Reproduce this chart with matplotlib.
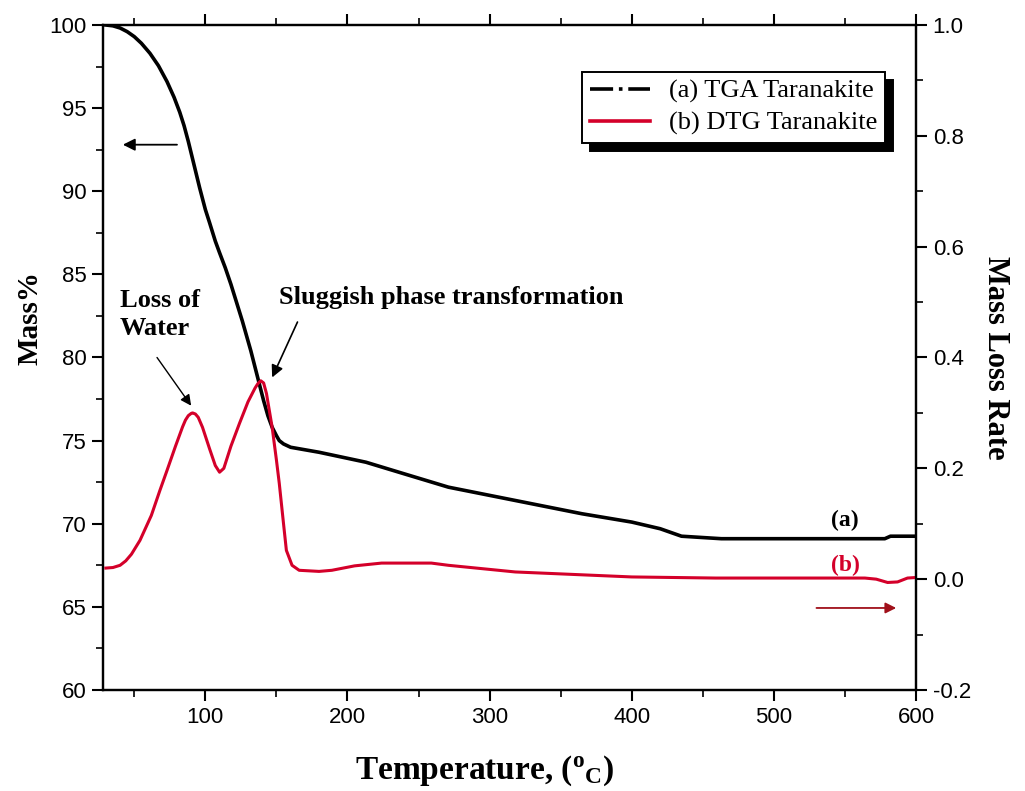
import matplotlib.pyplot as plt
from matplotlib.lines import Line2D
from matplotlib.ticker import MultipleLocator

plt.rcParams["mathtext.fontset"] = "custom"
plt.rcParams["mathtext.rm"] = "Liberation Serif:bold"
plt.rcParams["mathtext.it"] = "Liberation Serif:bold"

# TGA curve: temperature (C) vs remaining mass (%)
tga_temp = [30, 35, 40, 45, 50, 55, 61, 67, 73, 78, 82, 85, 88, 92, 96, 100,
            103, 107, 110, 114, 118, 122, 126, 129, 132, 135, 138, 141, 144,
            147, 150, 152, 155, 160, 180, 213, 240, 271, 318, 365, 400, 420,
            435, 463, 578, 582, 600]
tga_mass = [100.0, 99.95, 99.82, 99.6, 99.3, 98.9, 98.3, 97.55, 96.6, 95.65,
            94.75, 93.95, 93.0, 91.6, 90.2, 88.9, 88.1, 87.0, 86.3, 85.4, 84.4,
            83.3, 82.2, 81.3, 80.4, 79.4, 78.4, 77.4, 76.5, 75.8, 75.3, 75.0,
            74.8, 74.6, 74.3, 73.7, 73.0, 72.2, 71.4, 70.6, 70.1, 69.7, 69.25,
            69.1, 69.1, 69.25, 69.25]

# DTG curve: temperature (C) vs mass loss rate
dtg_temp = [30, 35, 40, 44, 48, 54, 62, 68, 73, 79, 84, 86, 88, 90, 91, 93,
            95, 98, 103, 107, 110, 113, 118, 124, 130, 135, 137, 139, 141,
            143, 147, 150, 152, 155, 157, 161, 166, 180, 189, 205, 224, 259,
            271, 318, 400, 459, 564, 572, 580, 587, 594, 600]
dtg_rate = [0.020, 0.021, 0.025, 0.033, 0.045, 0.070, 0.115, 0.160, 0.196,
            0.240, 0.275, 0.287, 0.295, 0.299, 0.300, 0.298, 0.292, 0.274,
            0.235, 0.205, 0.193, 0.200, 0.240, 0.281, 0.320, 0.345, 0.353,
            0.358, 0.354, 0.335, 0.274, 0.215, 0.173, 0.100, 0.052, 0.025,
            0.016, 0.014, 0.016, 0.024, 0.029, 0.029, 0.025, 0.013, 0.004,
            0.002, 0.002, 0.000, -0.006, -0.005, 0.002, 0.003]

tga_label = "(a) TGA Taranakite"
dtg_label = "(b) DTG Taranakite"

red = "#d4002a"
serif = "Liberation Serif"
sans = "Liberation Sans"

fig = plt.figure(figsize=(10.25, 7.91), dpi=100)
ax = fig.add_axes([0.1005, 0.1277, 0.7932, 0.8407])
ax2 = ax.twinx()

ax.plot(tga_temp, tga_mass, color="black", lw=2.6, zorder=3)
ax2.plot(dtg_temp, dtg_rate, color=red, lw=2.2)

ax.set_xlim(28, 600)
ax.set_ylim(60, 100)
ax2.set_ylim(-0.2, 1.0)

ax.xaxis.set_major_locator(MultipleLocator(100))
ax.xaxis.set_minor_locator(MultipleLocator(50))
ax.yaxis.set_major_locator(MultipleLocator(5))
ax.yaxis.set_minor_locator(MultipleLocator(2.5))
ax2.yaxis.set_major_locator(MultipleLocator(0.2))
ax2.yaxis.set_minor_locator(MultipleLocator(0.1))

for a in (ax, ax2):
    a.tick_params(which="major", direction="out", length=8, width=1.5,
                  labelsize=16, pad=4)
    a.tick_params(which="minor", direction="out", length=5, width=1.2)
    for s in a.spines.values():
        s.set_linewidth(1.6)
    for lab in a.get_xticklabels() + a.get_yticklabels():
        lab.set_fontfamily(sans)
ax.tick_params(which="both", top=True)
ax2.yaxis.set_major_formatter(plt.FuncFormatter(lambda v, p: f"{v:.1f}"))

ax.set_xlabel(r"Temperature, ($^{\mathrm{o}}$$_{\mathrm{C}}$)", fontfamily=serif,
              fontweight="bold", fontsize=24)
ax.xaxis.set_label_coords(0.47, -0.095)
ax.set_ylabel("Mass%", fontfamily=serif, fontweight="bold", fontsize=21)
ax.yaxis.set_label_coords(-0.073, 0.56)
ax2.set_ylabel("Mass Loss Rate", fontfamily=serif, fontweight="bold",
               fontsize=22, rotation=270, labelpad=28)

# axis indicator arrows
ax.annotate("", xy=(40, 92.8), xytext=(82, 92.8),
            arrowprops=dict(arrowstyle="-|>", color="black", lw=1.3,
                            mutation_scale=18))
ax2.annotate("", xy=(588, -0.052), xytext=(528, -0.052),
             arrowprops=dict(arrowstyle="-|>", color="#a0101a", lw=1.3,
                             mutation_scale=16))

# peak annotations
ax.text(40, 82.6, "Loss of\nWater", fontfamily=serif, fontweight="bold",
        fontsize=19, ha="left", va="center", linespacing=1.25)
ax.annotate("", xy=(90, 77.1), xytext=(66, 80.0),
            arrowprops=dict(arrowstyle="-|>", color="black", lw=1.0,
                            mutation_scale=16, shrinkA=0, shrinkB=0))
ax.annotate("Sluggish phase transformation", xy=(147, 78.8),
            xytext=(152, 83.6), fontfamily=serif, fontweight="bold",
            fontsize=19, ha="left", va="center",
            arrowprops=dict(arrowstyle="-|>", color="black", lw=1.2,
                            mutation_scale=18, shrinkA=8, shrinkB=0,
                            relpos=(0.07, 0.0)))

ax.text(550, 70.2, "(a)", fontfamily=serif, fontweight="bold", fontsize=17,
        ha="center", va="center", color="black")
ax.text(550, 67.5, "(b)", fontfamily=serif, fontweight="bold", fontsize=17,
        ha="center", va="center", color=red)

handles = [Line2D([], [], color="black", lw=2.6, ls="-."),
           Line2D([], [], color=red, lw=2.6)]
leg = ax2.legend(handles, [tga_label, dtg_label], loc="upper right",
                 bbox_to_anchor=(0.962, 0.93), fancybox=False,
                 prop={"family": serif, "size": 19}, handlelength=2.3,
                 handletextpad=0.7, borderpad=0.3, labelspacing=0.3,
                 borderaxespad=0, framealpha=1, edgecolor="black",
                 shadow={"ox": 6, "oy": -6, "color": "black", "alpha": 1})
leg.get_frame().set_linewidth(1.4)

fig.savefig("out.png", dpi=100)
